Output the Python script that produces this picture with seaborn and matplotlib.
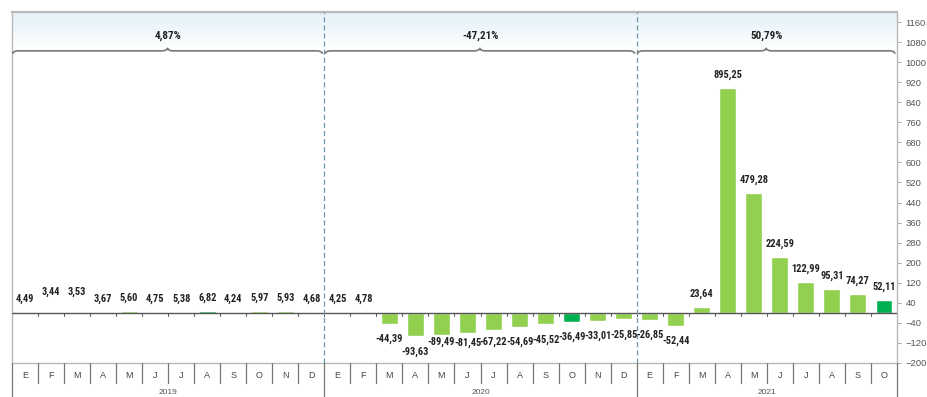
import numpy as np
import pandas as pd
import matplotlib
matplotlib.use("Agg")
import matplotlib.pyplot as plt
from matplotlib.path import Path
from matplotlib.patches import PathPatch
from matplotlib import font_manager
import seaborn as sns

# Monthly year-on-year variation (%)
months_2019 = ["E", "F", "M", "A", "M", "J", "J", "A", "S", "O", "N", "D"]
months_2020 = ["E", "F", "M", "A", "M", "J", "J", "A", "S", "O", "N", "D"]
months_2021 = ["E", "F", "M", "A", "M", "J", "J", "A", "S", "O"]

values_2019 = [4.49, 3.44, 3.53, 3.67, 5.60, 4.75, 5.38, 6.82, 4.24, 5.97, 5.93, 4.68]
values_2020 = [4.25, 4.78, -44.39, -93.63, -89.49, -81.45, -67.22, -54.69, -45.52, -36.49, -33.01, -25.85]
values_2021 = [-26.85, -52.44, 23.64, 895.25, 479.28, 224.59, 122.99, 95.31, 74.27, 52.11]

years = ["2019", "2020", "2021"]
annual_change = ["4,87%", "-47,21%", "50,79%"]

# months drawn in the darker green
highlight = {("2019", 2), ("2019", 7), ("2020", 9), ("2021", 9)}

LIGHT = "#92d050"
DARK = "#00b050"

rows = []
for yr, mlist, vals in zip(years, [months_2019, months_2020, months_2021],
                           [values_2019, values_2020, values_2021]):
    for k, (m, v) in enumerate(zip(mlist, vals)):
        rows.append({"key": f"{yr}-{k:02d}", "month": m, "year": yr, "value": v,
                     "color": DARK if (yr, k) in highlight else LIGHT})
df = pd.DataFrame(rows)
n = len(df)

sns.set_style("white")

# pick a narrow face for the data labels if one is available
available = {f.name for f in font_manager.fontManager.ttflist}
narrow = [f for f in ["Liberation Sans Narrow", "Roboto Condensed", "DejaVu Sans Condensed",
                      "Arial Narrow"] if f in available]
plt.rcParams["font.family"] = ["Liberation Sans", "DejaVu Sans"]
label_family = narrow[:1] + ["Roboto", "DejaVu Sans"]
label_size = 7.5 if narrow else 6.6

W, H = 927, 397
fig = plt.figure(figsize=(W / 100, H / 100), dpi=100)
ax = fig.add_axes([12 / W, 34 / H, 885 / W, 351 / H])

YMIN, YMAX = -200, 1200
px = 351 / (YMAX - YMIN)  # pixels per unit

# header band with a soft blue gradient
grad = np.linspace(0, 1, 64).reshape(-1, 1)
cmap = matplotlib.colors.LinearSegmentedColormap.from_list("hdr", ["#e4f0f9", "#ffffff"])
hdr_bottom = 1047
ax.imshow(grad, extent=[-0.5, n - 0.5, hdr_bottom, YMAX], aspect="auto",
          cmap=cmap, zorder=0, origin="upper")

sns.barplot(data=df, x="key", y="value", hue="key",
            palette=dict(zip(df["key"], df["color"])), legend=False,
            width=0.65, saturation=1, ax=ax, zorder=2)

ax.set_xlim(-0.5, n - 0.5)
ax.set_ylim(YMIN, YMAX)
ax.set_xlabel("")
ax.set_ylabel("")
ax.set_xticks([])

# right-hand value axis
ax.yaxis.tick_right()
ax.set_yticks(np.arange(-200, 1161, 80))
ax.tick_params(axis="y", labelsize=6.8, labelcolor="#555555", length=3,
               width=0.6, color="#9a9a9a", pad=3)
for side in ["left", "top", "right", "bottom"]:
    ax.spines[side].set_visible(True)
    ax.spines[side].set_color("#b8b8b8")
    ax.spines[side].set_linewidth(1.0)
ax.spines["top"].set_linewidth(1.6)

# zero line with small separators between months
ax.axhline(0, color="#555555", lw=1.0, zorder=3)
for k in range(n - 1):
    ax.plot([k + 0.5, k + 0.5], [0, -3 / px], color="#555555", lw=0.7, zorder=3)

# dashed year dividers
bounds = [0, 12, 24, n]
for b in bounds[1:-1]:
    ax.axvline(b - 0.5, color="#6d98ad", lw=0.9, ls=(0, (4, 2.5)), zorder=4)

# value labels
label_nudge = {1: 7, 2: 7, 16: 9, 17: 6, 18: 3}
for i, v in enumerate(df["value"]):
    txt = f"{v:.2f}".replace(".", ",")
    lift = label_nudge.get(i, 0)
    if v >= 0:
        off = (8 + lift) * 0.72
        va = "bottom"
    else:
        off = (-10 + lift) * 0.72
        va = "top"
    ax.annotate(txt, (i, v), xytext=(0, off), textcoords="offset points",
                ha="center", va=va, fontsize=label_size, fontweight="bold",
                family=label_family, color="#222222", zorder=5)

# braces with the annual change above each year
def brace(x0, x1, yb):
    d = 3 / px
    e = 0.22
    xm = (x0 + x1) / 2
    verts = [(x0, yb - d), (x0, yb), (x0 + e, yb),
             (xm - e, yb),
             (xm, yb), (xm, yb + d),
             (xm, yb), (xm + e, yb),
             (x1 - e, yb),
             (x1, yb), (x1, yb - d)]
    codes = [Path.MOVETO, Path.CURVE3, Path.CURVE3,
             Path.LINETO,
             Path.CURVE3, Path.CURVE3,
             Path.CURVE3, Path.CURVE3,
             Path.LINETO,
             Path.CURVE3, Path.CURVE3]
    ax.add_patch(PathPatch(Path(verts, codes), fill=False, edgecolor="#7a7a7a",
                           lw=1.2, zorder=5, clip_on=False))

yb = (312.5 - 50.5) / px
for j, (a, b) in enumerate(zip(bounds[:-1], bounds[1:])):
    brace(a - 0.5 + 0.03, b - 0.5 - 0.08, yb)
    ax.text((a + b - 1) / 2, (312.5 - 35) / px, annual_change[j], ha="center",
            va="center", fontsize=label_size + 0.5, fontweight="bold",
            family=label_family, color="#222222", zorder=5)

# month / year band under the plot
bx = fig.add_axes([12 / W, 0, 885 / W, 34 / H])
bx.set_xlim(-0.5, n - 0.5)
bx.set_ylim(0, 34)
bx.axis("off")
for k in range(n - 1):
    if k + 1 in bounds:
        continue
    bx.plot([k + 0.5, k + 0.5], [34, 14], color="#777777", lw=0.9)
for b in bounds:
    bx.plot([b - 0.5, b - 0.5], [34, 0], color="#777777", lw=0.9, clip_on=False)
for i, m in enumerate(df["month"]):
    bx.text(i, 22, m, ha="center", va="center", fontsize=6.5, color="#444444")
for j, (a, b) in enumerate(zip(bounds[:-1], bounds[1:])):
    bx.text((a + b - 1) / 2, 5, years[j], ha="center", va="center",
            fontsize=6, color="#555555")

fig.savefig("out.png", dpi=100)
